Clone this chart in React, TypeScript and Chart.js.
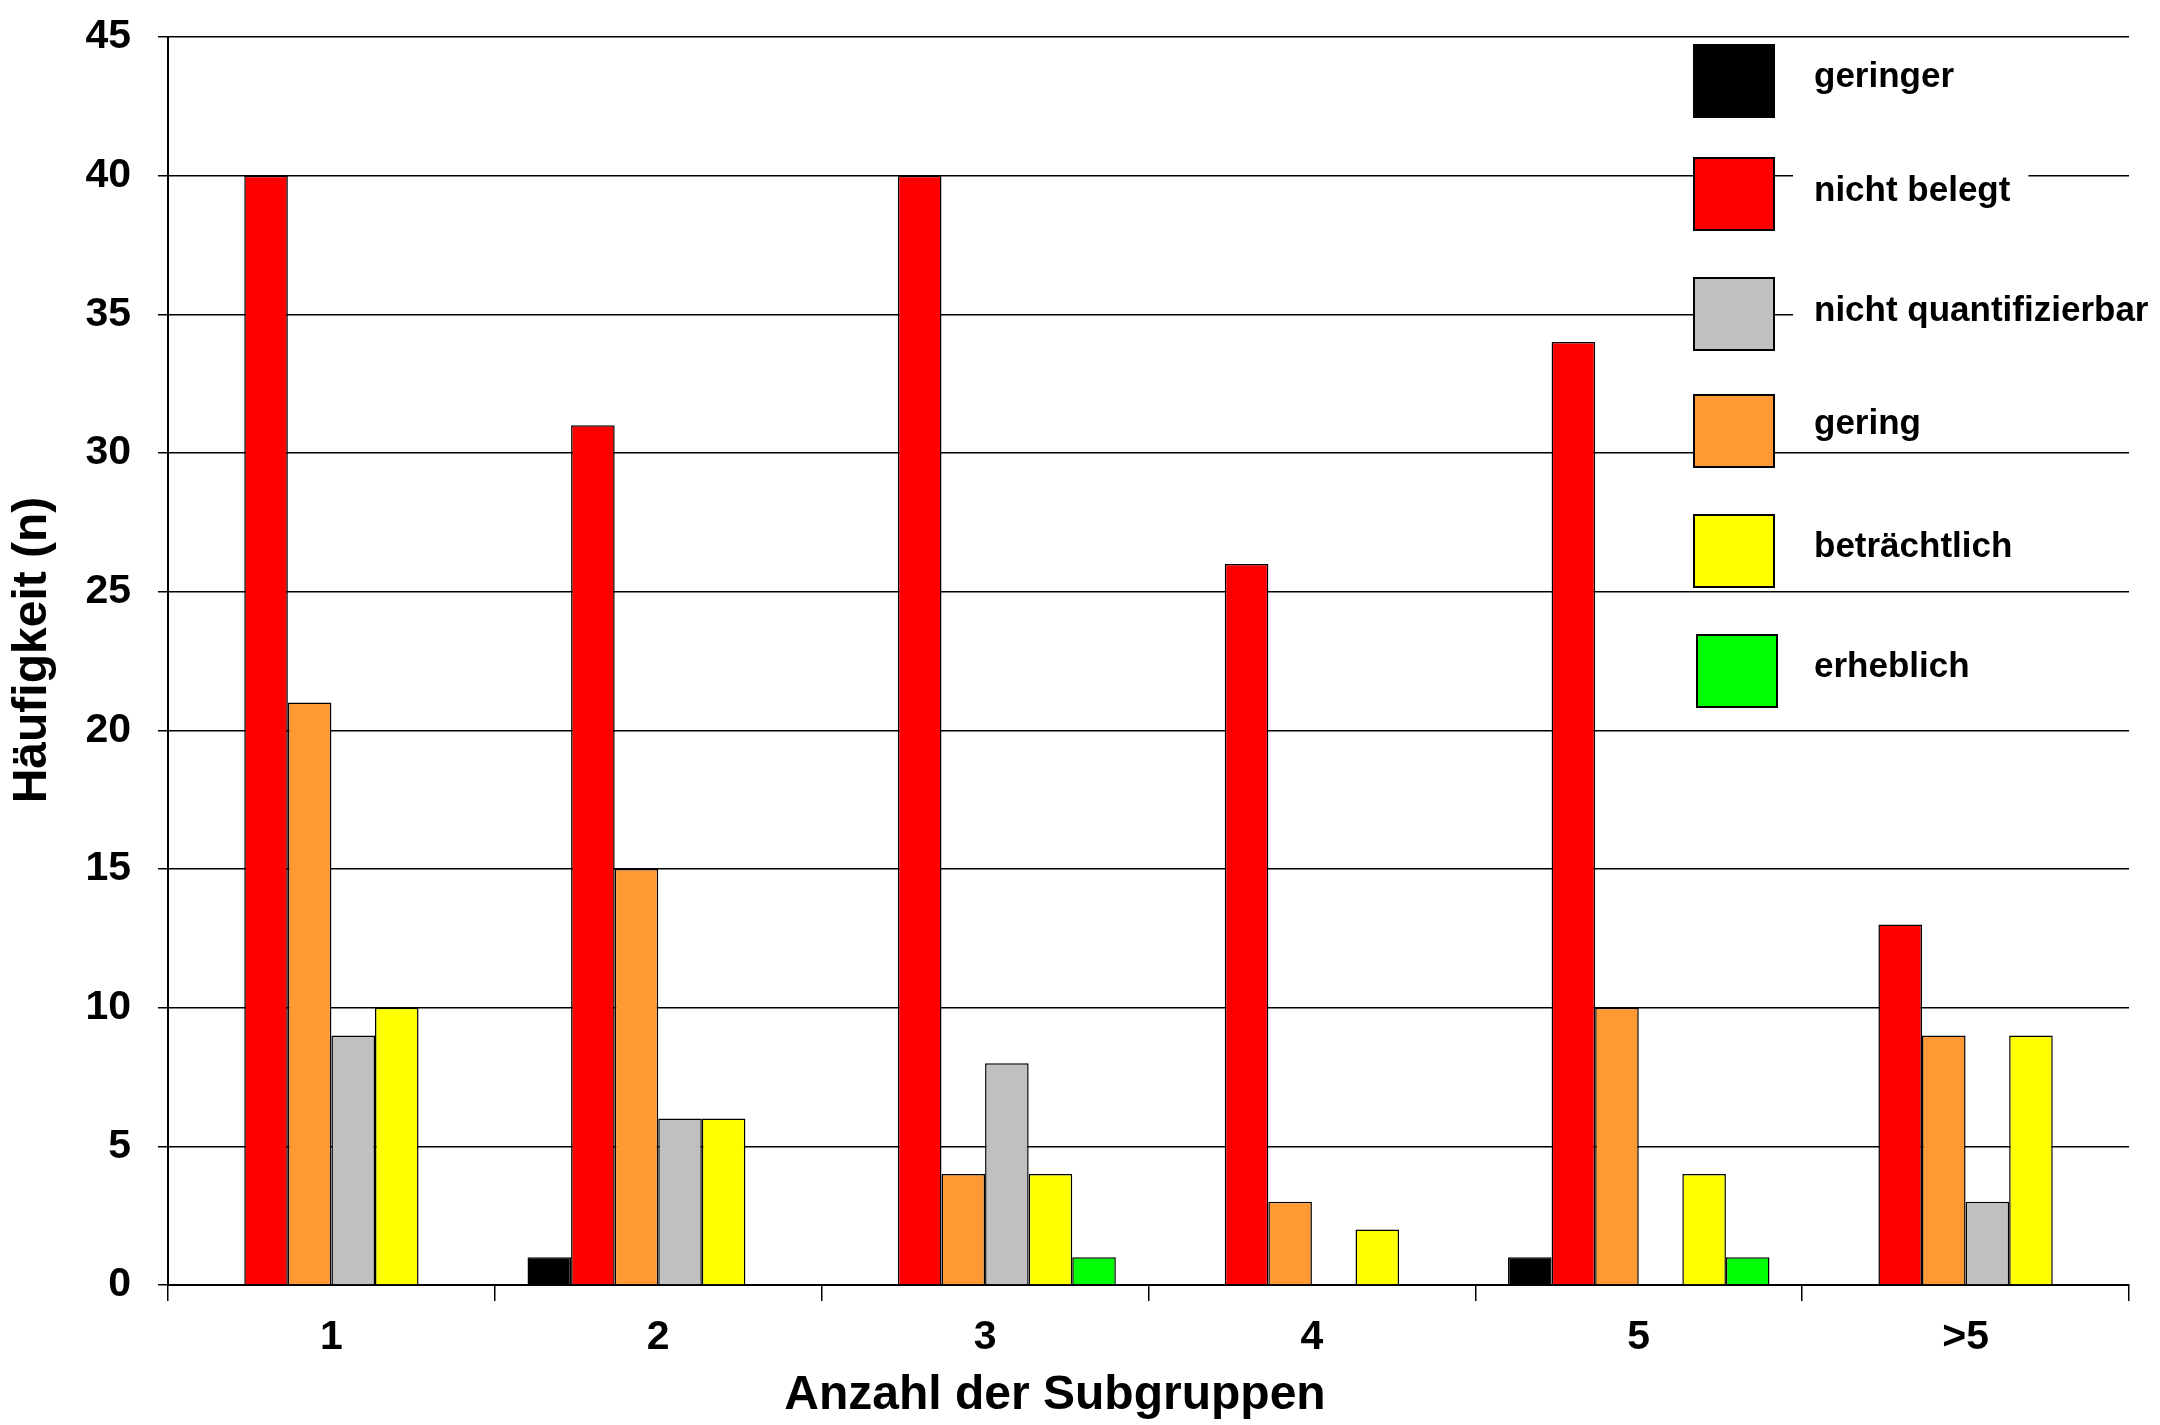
import React, { useEffect, useRef } from "react";
import { Chart, registerables } from "chart.js";

Chart.register(...registerables);

const categories = ["1", "2", "3", "4", "5", ">5"];
const seriesLabels = ["geringer", "nicht belegt", "gering", "nicht quantifizierbar", "beträchtlich", "erheblich"];
const geringer = [0, 1, 0, 0, 1, 0];
const nichtBelegt = [40, 31, 40, 26, 34, 13];
const gering = [21, 15, 4, 3, 10, 9];
const nichtQuantifizierbar = [9, 6, 8, 0, 0, 3];
const betraechtlich = [10, 6, 4, 2, 4, 9];
const erheblich = [0, 0, 1, 0, 1, 0];
const seriesColors = ["#000000", "#FF0000", "#FF9933", "#C0C0C0", "#FFFF00", "#00FF00"];
// legend lists the series in this order
const legendOrder = [0, 1, 3, 2, 4, 5];
const yTicks = [0, 5, 10, 15, 20, 25, 30, 35, 40, 45];
const xTitle = "Anzahl der Subgruppen";
const yTitle = "Häufigkeit (n)";

const FONT = "'Liberation Sans', Arial, Helvetica, sans-serif";

// legend layout (pixels)
const LEGEND_BOX_TOPS = [45, 158, 278, 395, 515, 635];
const LEGEND_TEXT_MIDS = [77, 191, 311, 424, 547, 667];
const LEGEND_BOX_X = [1694, 1694, 1694, 1694, 1694, 1697];

const boxLegend = {
  id: "boxLegend",
  afterDraw(chart: any) {
    const ctx = chart.ctx;
    ctx.save();
    const boxW = 80;
    const boxH = 72;
    const textX = 1814;
    ctx.font = `bold 35px ${FONT}`;
    legendOrder.forEach((di, i) => {
      const ds = chart.data.datasets[di];
      const y = LEGEND_BOX_TOPS[i];
      const bx = LEGEND_BOX_X[i];
      ctx.fillStyle = ds.backgroundColor;
      ctx.fillRect(bx, y, boxW, boxH);
      ctx.lineWidth = 2;
      ctx.strokeStyle = "#000";
      ctx.strokeRect(bx, y, boxW, boxH);
      const cy = LEGEND_TEXT_MIDS[i];
      const w = ctx.measureText(ds.label).width;
      ctx.fillStyle = "#fff";
      ctx.fillRect(textX - 21, cy - 20, w + 39, 40);
      ctx.fillStyle = "#000";
      ctx.textBaseline = "middle";
      ctx.textAlign = "left";
      ctx.fillText(ds.label, textX, cy);
    });

    // axis titles
    ctx.font = `bold 48px ${FONT}`;
    ctx.fillStyle = "#000";
    ctx.textAlign = "center";
    ctx.textBaseline = "middle";
    ctx.fillText(xTitle, 1055, 1396);
    ctx.save();
    ctx.translate(33, 650);
    ctx.rotate(-Math.PI / 2);
    ctx.fillText(yTitle, 0, 0);
    ctx.restore();

    ctx.restore();
  },
};

export default function App() {
  const ref = useRef<HTMLCanvasElement | null>(null);

  useEffect(() => {
    document.body.style.margin = "0";
    const canvas = ref.current;
    if (!canvas) return;
    const values = [geringer, nichtBelegt, gering, nichtQuantifizierbar, betraechtlich, erheblich];
    const chart = new Chart(canvas, {
      type: "bar",
      data: {
        labels: categories,
        datasets: values.map((v, i) => ({
          label: seriesLabels[i],
          data: v,
          backgroundColor: seriesColors[i],
          borderColor: "#000000",
          borderWidth: 1.5,
          categoryPercentage: 0.8,
          barPercentage: 1.0,
        })),
      },
      options: {
        responsive: false,
        devicePixelRatio: 1,
        animation: false,
        layout: { padding: { top: 37, right: 31, left: 0, bottom: 0 } },
        plugins: {
          legend: { display: false },
          tooltip: { enabled: false },
        },
        scales: {
          x: {
            grid: {
              display: true,
              drawOnChartArea: false,
              drawTicks: true,
              tickLength: 16,
              color: "#000",
              lineWidth: 1.5,
              offset: true,
            },
            border: { display: true, color: "#000", width: 2 },
            ticks: {
              color: "#000",
              font: { family: FONT, size: 41, weight: "bold" },
              padding: 12,
            },
            title: { display: false },
            afterFit(s: any) {
              s.height = 140;
              s.paddingLeft = 0;
              s.paddingRight = 0;
            },
          },
          y: {
            min: 0,
            max: 45,
            afterBuildTicks(s: any) {
              s.ticks = yTicks.map((v) => ({ value: v }));
            },
            ticks: {
              color: "#000",
              font: { family: FONT, size: 41, weight: "bold" },
              padding: 27,
            },
            grid: { color: "#000", lineWidth: 1.5, tickLength: 10, drawTicks: true },
            border: { display: true, color: "#000", width: 2 },
            title: { display: false },
            afterFit(s: any) {
              s.width = 168;
              s.paddingTop = 0;
              s.paddingBottom = 0;
            },
          },
        },
      },
      plugins: [boxLegend],
    });
    return () => chart.destroy();
  }, []);

  return (
    <div style={{ width: 2160, height: 1425, background: "#fff" }}>
      <canvas ref={ref} width={2160} height={1425} style={{ display: "block" }} />
    </div>
  );
}
